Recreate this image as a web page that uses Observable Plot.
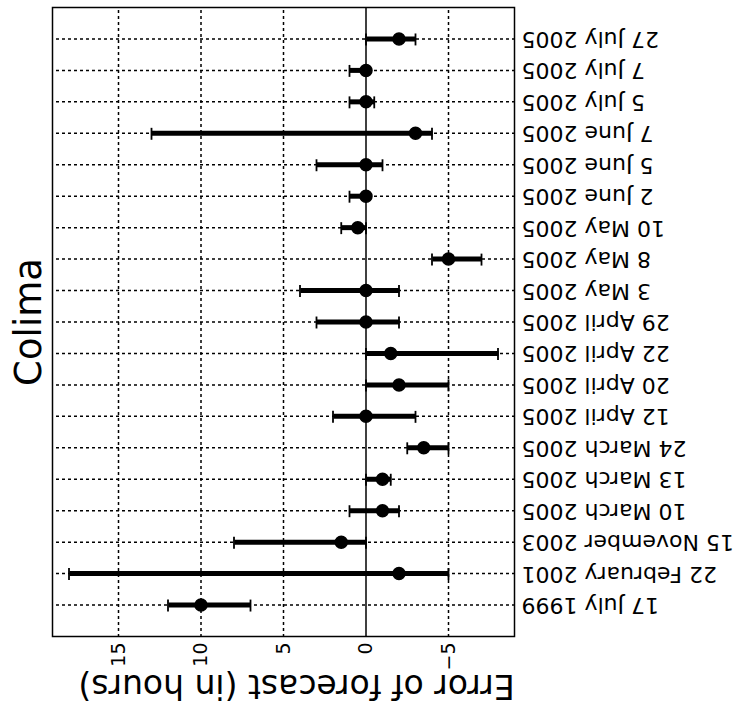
<!DOCTYPE html>
<html>
<head>
<meta charset="utf-8">
<script src="https://cdn.jsdelivr.net/npm/d3@7"></script>
<script src="https://cdn.jsdelivr.net/npm/@observablehq/plot@0.6"></script>
<style>
  html, body { margin: 0; padding: 0; background: white; overflow: hidden; }
  #wrap { width: 737px; height: 709px; transform: rotate(180deg); transform-origin: 50% 50%; }
</style>
</head>
<body>
<div id="wrap"></div>
<script>
const dates = ["17 July 1999", "22 February 2001", "15 November 2003", "10 March 2005", "13 March 2005",
  "24 March 2005", "12 April 2005", "20 April 2005", "22 April 2005", "29 April 2005", "3 May 2005",
  "8 May 2005", "10 May 2005", "2 June 2005", "5 June 2005", "7 June 2005", "5 July 2005",
  "7 July 2005", "27 July 2005"];
const errors = [10, -2, 1.5, -1, -1, -3.5, 0, -2, -1.5, 0, 0, -5, 0.5, 0, 0, -3, 0, 0, -2];
const lows   = [7, -5, 0, -2, -1.5, -5, -3, -5, -8, -2, -2, -7, 0, 0, -1, -4, -0.5, 0, -3];
const highs  = [12, 18, 8, 1, 0, -2.5, 2, 0, 0, 3, 4, -4, 1.5, 1, 3, 13, 1, 1, 0];
const xTicks = [-5, 0, 5, 10, 15];
const title = "Colima";
const xLabel = "Error of forecast (in hours)";

const data = dates.map((d, i) => ({date: d, err: errors[i], lo: lows[i], hi: highs[i]}));

const chart = Plot.plot({
  width: 737,
  height: 709,
  marginTop: 72,
  marginBottom: 8,
  marginLeft: 222,
  marginRight: 53,
  style: {fontFamily: "DejaVu Sans", fontSize: "22px", background: "white", color: "black", overflow: "visible"},
  x: {domain: [-9, 19]},
  y: {type: "band", domain: dates, paddingInner: 0.62, paddingOuter: 0.81, round: false},
  marks: [
    Plot.gridX(xTicks.filter(t => t !== 0), {stroke: "black", strokeOpacity: 1, strokeWidth: 1.5, strokeDasharray: "3,3"}),
    Plot.gridY(dates, {stroke: "black", strokeOpacity: 1, strokeWidth: 1.5, strokeDasharray: "3,3"}),
    Plot.ruleX([0], {stroke: "black", strokeWidth: 1.5}),
    Plot.axisX(xTicks, {anchor: "top", tickSize: 0, tickPadding: 6, tickRotate: 90, textAnchor: "end",
      fontSize: 19, label: null, tickFormat: d => d < 0 ? "\u2212" + Math.abs(d) : String(d)}),
    Plot.axisY({anchor: "left", tickSize: 0, tickPadding: 7, fontSize: 22, label: null}),
    Plot.ruleY(data, {y: "date", x1: "lo", x2: "hi", stroke: "black", strokeWidth: 5}),
    Plot.tickX(data, {x: "lo", y: "date", stroke: "black", strokeWidth: 1.8}),
    Plot.tickX(data, {x: "hi", y: "date", stroke: "black", strokeWidth: 1.8}),
    Plot.dot(data, {x: "err", y: "date", r: 6, fill: "black", stroke: "black"}),
    Plot.frame({stroke: "black", strokeWidth: 1.5}),
    Plot.text([xLabel], {frameAnchor: "top", dy: -49, dx: -13, fontSize: 33, textAnchor: "middle", lineAnchor: "middle", fill: "black"}),
    Plot.text([title], {frameAnchor: "right", dx: 23, rotate: 90, fontSize: 37, textAnchor: "middle", lineAnchor: "middle", fill: "black"})
  ]
});
document.getElementById("wrap").appendChild(chart);
</script>
</body>
</html>
